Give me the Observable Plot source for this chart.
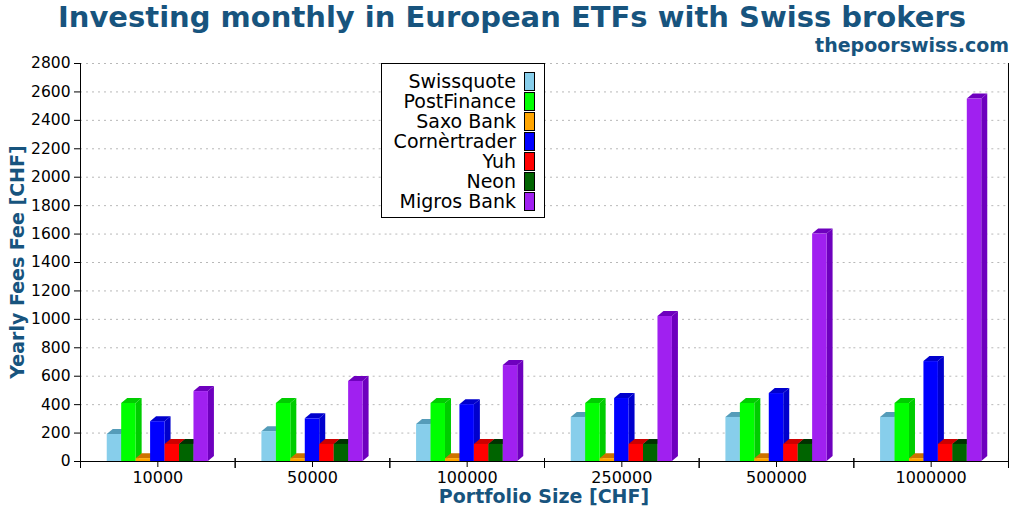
<!DOCTYPE html>
<html>
<head>
<meta charset="utf-8">
<script src="https://cdn.jsdelivr.net/npm/d3@7"></script>
<script src="https://cdn.jsdelivr.net/npm/@observablehq/plot@0.6"></script>
<style>
  html, body { margin: 0; padding: 0; background: #fff; }
  #wrap { position: relative; width: 1024px; height: 512px; overflow: hidden; font-family: "DejaVu Sans", sans-serif; }
  #wrap svg { position: absolute; left: 0; top: 0; }
  .title { position: absolute; left: 0; width: 1024px; text-align: center; top: 0px; font-weight: bold; font-size: 29px; color: #17547e; line-height: 34px; white-space: nowrap; }
  .sub { position: absolute; right: 15px; top: 33px; font-weight: bold; font-size: 19px; color: #17547e; line-height: 24px; }
  .xlabel { position: absolute; left: 80px; width: 928px; text-align: center; top: 487px; font-weight: bold; font-size: 19px; color: #17547e; line-height: 19px; }
  .ylabel { position: absolute; left: 17px; top: 262px; transform: translate(-50%, -50%) rotate(-90deg); font-weight: bold; font-size: 19px; color: #17547e; line-height: 22px; white-space: nowrap; }
  .legend { position: absolute; left: 381px; top: 63px; width: 162px; height: 153px; border: 1px solid #000; background: #fff; box-sizing: content-box; }
  .legend .row { position: absolute; left: 0; width: 162px; height: 20px; }
  .legend .lab { position: absolute; right: 28px; top: 0; line-height: 20px; font-size: 19px; color: #000; white-space: nowrap; }
  .legend .sw { position: absolute; left: 142px; top: 1px; width: 9px; height: 17px; border: 1px solid #000; }
</style>
</head>
<body>
<div id="wrap"></div>
<script>
const groups = ["10000", "50000", "100000", "250000", "500000", "1000000"];
const series = ["Swissquote", "PostFinance", "Saxo Bank", "Cornèrtrader", "Yuh", "Neon", "Migros Bank"];
const colors = ["#87CEEB", "#00FF00", "#FFA500", "#0000FF", "#FF0000", "#006400", "#A020F0"];
const swissquote  = [190, 210, 260, 310, 310, 310];
const postfinance = [408, 408, 408, 408, 408, 408];
const saxoBank    = [20, 20, 20, 20, 20, 20];
const cornertrader = [280, 300, 400, 443, 478, 703];
const yuh         = [120, 120, 120, 120, 120, 120];
const neon        = [120, 120, 120, 120, 120, 120];
const migrosBank  = [492, 563, 675, 1020, 1600, 2550];
const yTicks = [0, 200, 400, 600, 800, 1000, 1200, 1400, 1600, 1800, 2000, 2200, 2400, 2600, 2800];

const seriesValues = [swissquote, postfinance, saxoBank, cornertrader, yuh, neon, migrosBank];
const data = [];
groups.forEach((g, gi) => {
  series.forEach((s, si) => data.push({group: g, series: s, value: seriesValues[si][gi]}));
});

function shade(c, k) {
  const r = d3.rgb(c);
  return d3.rgb(Math.max(0, r.r - k), Math.max(0, r.g - k), Math.max(0, r.b - k)).formatHex();
}

function bars3d(index, scales, values, dimensions, context) {
  const bw = scales.x.bandwidth ? scales.x.bandwidth() : 14.5;
  const dx = 6, dy = 5;
  const g = d3.create("svg:g");
  for (const i of index) {
    const x0 = values.x[i], x1 = x0 + bw;
    const yt = Math.min(values.y1[i], values.y2[i]);
    const yb = Math.max(values.y1[i], values.y2[i]);
    const c = values.fill[i];
    const dark = shade(c, 50);
    g.append("polygon")
      .attr("points", [[x1, yb], [x1 + dx, yb - dy], [x1 + dx, yt - dy], [x1, yt]].map(p => p.join(",")).join(" "))
      .attr("fill", dark);
    g.append("polygon")
      .attr("points", [[x0, yt], [x0 + dx, yt - dy], [x1 + dx, yt - dy], [x1, yt]].map(p => p.join(",")).join(" "))
      .attr("fill", dark);
    g.append("rect")
      .attr("x", x0).attr("y", yt).attr("width", bw).attr("height", yb - yt)
      .attr("fill", c);
  }
  return g.node();
}

function edgeTicks(index, scales, values, dims) {
  const g = d3.create("svg:g").attr("stroke", "#000");
  const yb = dims.height - dims.marginBottom;
  const xl = dims.marginLeft, xr = dims.width - dims.marginRight;
  g.append("line").attr("x1", xl).attr("x2", xr).attr("y1", yb + 0.5).attr("y2", yb + 0.5);
  for (const x of [xl, xr]) {
    g.append("line").attr("x1", x + 0.5).attr("x2", x + 0.5).attr("y1", yb - 3).attr("y2", yb + 7);
  }
  return g.node();
}

const chart = Plot.plot({
  width: 1024,
  height: 512,
  marginTop: 63,
  marginBottom: 51,
  marginLeft: 80,
  marginRight: 16,
  style: {fontFamily: "DejaVu Sans, sans-serif", fontSize: "15px", color: "#000", background: "transparent", overflow: "visible"},
  fx: {domain: groups, padding: 0, round: false, label: null, axis: null},
  x: {domain: series, paddingInner: 0, paddingOuter: 1.85, round: false, axis: null},
  y: {domain: [0, 2800], axis: null},
  color: {domain: series, range: colors},
  marks: [
    Plot.gridY(yTicks.filter(d => d > 0), {stroke: "#b8b8b8", strokeOpacity: 1, strokeDasharray: "2,4"}),
    Plot.barY(data, {fx: "group", x: "series", y: "value", fill: "series", render: bars3d}),
    Plot.frame({anchor: "bottom", render: edgeTicks}),
    Plot.frame({anchor: "left", facetAnchor: "left", stroke: "#000"}),
    Plot.frame({anchor: "right", facetAnchor: "right", stroke: "#000"}),
    Plot.axisY({ticks: yTicks, tickSize: 6, tickPadding: 4, tickFormat: d3.format("d"), fontSize: 15.5, label: null, stroke: "#000"}),
    Plot.axisFx({anchor: "bottom", tickSize: 6, tickPadding: 4, fontSize: 16, label: null, stroke: "#000"})
  ]
});

const wrap = document.getElementById("wrap");
wrap.appendChild(chart);

function addDiv(cls, text) {
  const d = document.createElement("div");
  d.className = cls;
  if (text != null) d.textContent = text;
  wrap.appendChild(d);
  return d;
}
addDiv("title", "Investing monthly in European ETFs with Swiss brokers");
addDiv("sub", "thepoorswiss.com");
addDiv("xlabel", "Portfolio Size [CHF]");
addDiv("ylabel", "Yearly Fees Fee [CHF]");

const legend = addDiv("legend");
series.forEach((s, i) => {
  const row = document.createElement("div");
  row.className = "row";
  row.style.top = (7 + 20 * i) + "px";
  const lab = document.createElement("span");
  lab.className = "lab";
  lab.textContent = s;
  const sw = document.createElement("span");
  sw.className = "sw";
  sw.style.background = colors[i];
  row.appendChild(lab);
  row.appendChild(sw);
  legend.appendChild(row);
});
</script>
</body>
</html>
